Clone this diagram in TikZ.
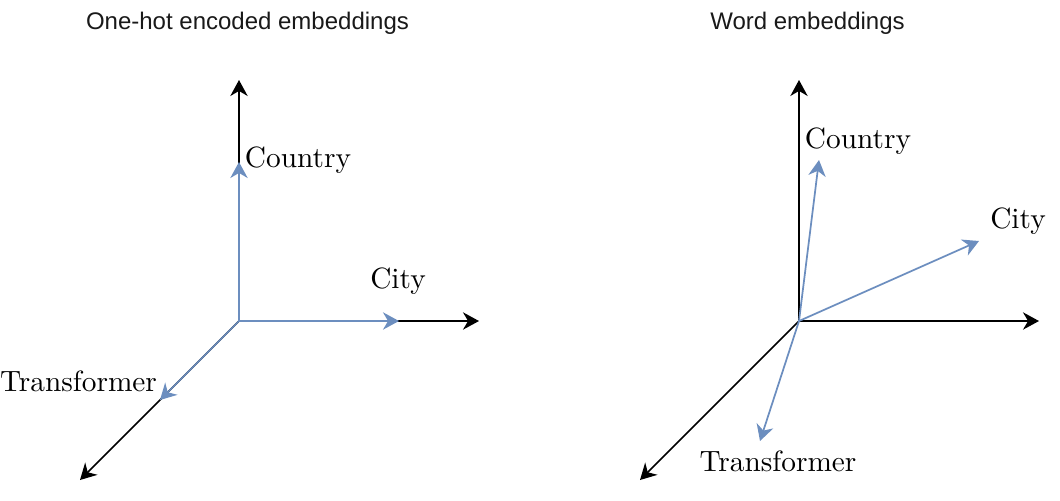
\documentclass[tikz,border=0pt]{standalone}
\usepackage{fontspec}
\newfontfamily\titlefont{Liberation Sans}
\newfontfamily\rotulofont{lmroman10-regular.otf}
\usetikzlibrary{arrows.meta}

\definecolor{vetorazul}{HTML}{6C8EBF}

\tikzset{
    eixo/.style={line width=1.3pt, -{Stealth[length=12pt, width=13pt, inset=3.8pt]}},
    vetor/.style={eixo, draw=vetorazul, fill=vetorazul},
    rotulo/.style={inner sep=0pt, font=\rotulofont\fontsize{22}{26}\selectfont},
    titulo/.style={inner sep=0pt, text=black!90, font=\titlefont\fontsize{18}{22}\selectfont}
}

\begin{document}
\begin{tikzpicture}[x=0.75pt, y=-0.75pt]
    \useasboundingbox (0,0) rectangle (1060,500);

    % titulos
    \node[titulo] (tituloA) at (247.5,23) {One-hot encoded embeddings};
    \node[titulo] (tituloB) at (807.5,23) {Word embeddings};

    % one-hot: eixos
    \coordinate (oA) at (239,321);
    \coordinate (yA) at (239,80);
    \coordinate (xA) at (479,321);
    \coordinate (zA) at (80,480);
    \draw[eixo] (oA) -- (yA);
    \draw[eixo] (oA) -- (xA);
    \draw[eixo] (oA) -- (zA);

    % one-hot: vetores sobre os eixos
    \coordinate (paisA) at (239,162);
    \coordinate (cidadeA) at (399,321);
    \coordinate (transfA) at (160,400);
    \draw[vetor] (oA) -- (paisA);
    \draw[vetor] (oA) -- (cidadeA);
    \draw[vetor] (oA) -- (transfA);

    \node[rotulo] (lpaisA) at (298,160) {Country};
    \node[rotulo] (lcidadeA) at (398,281) {City};
    \node[rotulo] (ltransfA) at (78.5,381.5) {Transformer};

    % word embeddings: eixos
    \coordinate (oB) at (799,321);
    \coordinate (yB) at (799,80);
    \coordinate (xB) at (1039,321);
    \coordinate (zB) at (640,480);
    \draw[eixo] (oB) -- (yB);
    \draw[eixo] (oB) -- (xB);
    \draw[eixo] (oB) -- (zB);

    % word embeddings: vetores
    \coordinate (paisB) at (819,160);
    \coordinate (cidadeB) at (979,241);
    \coordinate (transfB) at (760,441);
    \draw[vetor] (oB) -- (paisB);
    \draw[vetor] (oB) -- (cidadeB);
    \draw[vetor] (oB) -- (transfB);

    \node[rotulo] (lpaisB) at (858,141) {Country};
    \node[rotulo] (lcidadeB) at (1018,221) {City};
    \node[rotulo] (ltransfB) at (778,461) {Transformer};

\end{tikzpicture}
\end{document}
